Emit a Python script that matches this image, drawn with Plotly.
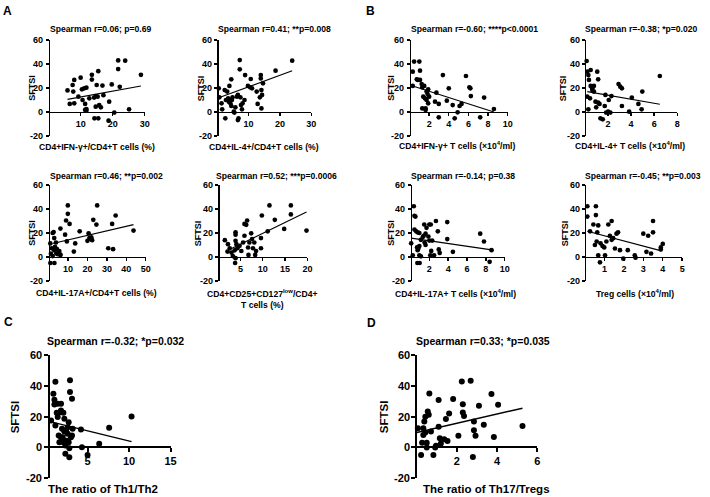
import plotly.graph_objects as go

W, H = 710, 497

# ---------------- data ----------------
a1_x = [5.9,7.5,7.7,8.0,6.6,8.0,9.3,10.0,10.4,11.1,11.8,10.6,11.4,11.4,11.8,11.8,12.7,13.5,13.5,14.2,14.7,15.0,15.5,14.7,15.8,16.3,16.8,17.1,15.3,14.3,15.5,18.9,19.7,18.7,20.5,21.7,21.7,22.2,23.9,25.1,28.8]
a1_y = [18,22.5,17,26.7,6.7,7.2,12.8,28.6,18.9,19.7,20.3,10,6.7,1.7,2.5,1.1,11.4,31,27,12,13.3,22.5,34,4.4,5.8,3.9,22,14,12.8,-5.3,-5.3,8.6,23,-7.2,-0.5,43,35.8,21,42.8,2.2,31]
a1_fit_x = [5.9, 28.8]
a1_fit_y = [10.5, 21.7]

a2_x = [0.5,0.7,1.4,1.6,2.4,2.8,3.2,2.6,3.5,3.7,3.9,4.2,4.5,4.7,4.9,4.5,5.3,5.5,5.8,6.3,6.6,6.8,6.6,7.2,7.2,7.4,7.6,8.1,7.9,8.7,8.9,9.8,10.5,10.7,11.1,12.6,12.9,13.6,13.9,13.9,14.1,14.3,14.1,14.6,18.6,23.9]
a2_y = [19.7,12.2,7.2,2.2,18.3,10,17,-5.3,11.4,8.6,21.7,7.2,5,10,12.2,27.2,0.3,-0.5,3.9,12.8,14.2,-5.3,-6.7,43.3,35.6,12.2,5.8,7.2,2.2,10,30.8,21.7,20.6,27.5,19.7,17,6.7,12.2,30.8,28,18.3,14.2,3,23.9,34.4,42.8]
a2_fit_x = [0.5, 23.9]
a2_fit_y = [11.8, 34.4]

a3_x = [0.9,1.6,1.2,2.1,2.6,2.9,2.1,2.9,3.3,3.8,4.3,4.7,5.5,6.1,6.1,9.0,9.9,9.9,10.8,8.5,9.4,13.0,13.7,16.0,20.0,20.6,21.0,21.7,22.4,22.0,23.0,25.0,24.6,30.7,33.2,32.7,34.5,43.7,0.9,3.0,4.0,6.0]
a3_y = [11.3,7.3,2.8,20,20.8,15.8,0.8,5.6,8.5,12.1,6.5,2.3,5,1.7,23.7,30.4,43,36,27.6,18.6,13,4.5,11.3,21.4,13.5,19.7,15.8,15,14,16.3,31,43,27,7.3,6.5,27.6,34.6,22,-5,-5,3,2]
a3_fit_x = [2.1, 43.7]
a3_fit_y = [11.3, 27]

a4_x = [1.5,2.2,2.6,2.1,3.0,3.3,3.7,3.9,4.1,4.3,3.9,3.9,3.9,4.8,5.2,5.6,5.9,5.9,6.3,6.5,6.7,6.8,7.0,7.4,7.6,7.8,8.1,8.3,8.5,9.6,9.6,9.8,11.1,11.5,12.7,14.8,16.3,16.3,19.8,3.8]
a4_y = [14,10.7,7.3,4.5,3.7,0.8,5.6,-1,10.7,7.3,20.6,18.6,13.5,9.3,5,12.1,17.7,27.6,26.8,30.4,7.9,1.7,12.1,19.7,15,7.3,12.1,1.7,5,7.3,15.8,34.6,21.4,43,31,23.4,43,35.5,22,-5]
a4_fit_x = [2.2, 19.8]
a4_fit_y = [5.6, 37.5]

b1_x = [0.33,0.33,0.47,0.74,0.84,1.0,1.07,1.07,1.24,1.3,1.4,1.5,1.57,1.64,1.74,1.74,1.84,1.64,1.9,1.3,1.9,2.0,2.6,2.74,2.98,2.98,3.4,3.8,4.0,4.4,4.6,4.9,5.1,5.3,5.75,6.1,6.2,6.25,7.2,7.6,8.6]
b1_y = [21.7,33.6,42,27.2,26.7,42,34.4,26.7,23.3,20.6,12.8,21.7,11.4,3,10,17,15,1.7,7.2,3,18.9,12.8,8.6,16.1,6.7,-4.4,30.8,9.4,19.7,5.8,-5.3,-0.3,5,6.7,30,20.6,19.7,13.3,-4.4,12,2.5]
b1_fit_x = [0.33, 8.6]
b1_fit_y = [21.7, 0]

b2_x = [0.14,0.2,0.29,0.34,0.2,0.29,0.43,0.49,0.49,0.63,0.63,0.77,0.77,0.91,0.97,1.06,1.14,1.14,1.26,1.34,1.54,1.71,1.77,1.83,2.0,2.06,2.2,2.29,2.91,3.06,3.2,3.2,3.83,4.06,4.63,4.91,4.97,6.49]
b2_y = [42.5,33.6,30.8,26.7,12.8,2.2,11.4,35,21.7,19.7,18.3,21.7,17,8.6,3.9,33.6,27.2,7.8,6.7,-5.3,-6.1,5,14.2,-0.5,0.3,10,-0.5,13.3,23.3,21.1,19.7,5,0.3,12,6.7,2.2,17,30]
b2_fit_x = [0.2, 6.49]
b2_fit_y = [17, 6.4]

b3_x = [0.07,0.24,0.35,0.42,0.52,0.42,0.6,0.76,0.94,0.7,0.76,0.83,0.94,0.94,1.1,1.1,1.3,1.4,1.46,1.5,1.6,1.6,1.7,1.9,2.0,2.15,2.0,2.1,2.2,2.3,2.5,2.7,2.9,3.0,3.1,3.9,3.9,4.5,7.4,7.8,8.6,0.73,0.97,8.4]
b3_y = [11.4,1.4,42.3,34.3,33.7,22.9,21.4,20.6,20,8,5.7,7.1,9.1,1.4,0.6,14.3,16.6,17.7,27.1,12,10,19.4,24.3,17.1,27.1,27.1,13.7,1.4,5.1,13.7,1.4,30,21.4,6.3,3.4,29.1,14.9,4.3,19.4,12.9,5.7,-5,-5,-4]
b3_fit_x = [0.07, 8.8]
b3_fit_y = [15.7, 5.7]

b4_x = [0.12,0.12,0.26,0.56,0.56,0.43,0.68,0.63,0.51,0.6,0.68,0.8,0.9,0.99,1.03,1.1,1.2,1.37,1.28,1.37,1.45,1.54,1.62,1.7,1.8,1.97,2.2,2.56,2.6,3.0,3.25,3.5,3.5,3.16,3.4,3.9,3.9,4.0,0.77]
b4_y = [42.3,33.7,21.4,42.3,34.9,27.1,26.3,20.6,10,12.9,1.4,11.4,9.1,8,1.4,12.9,27.1,30,17.7,14.3,15.7,7.1,19.4,20.6,5.7,-1.4,5.7,1.4,-0.6,19.4,17.7,20.6,30,4.3,2.9,6.3,8,10.9,-4.4]
b4_fit_x = [0.12, 3.93]
b4_fit_y = [21.4, 5.1]

c_x = [0.6,0.88,1.0,1.0,1.12,1.12,1.28,1.4,1.4,1.52,1.6,1.68,1.8,1.8,1.8,1.92,2.0,2.08,2.08,2.2,2.2,2.32,2.32,2.4,2.48,2.6,2.6,2.72,2.72,2.8,2.8,2.88,2.88,3.0,3.12,3.12,3.2,4.2,4.32,5.0,6.4,7.6,10.3]
c_y = [17.4,34.8,30.9,27.8,42.6,14.1,22.4,28.3,19.6,7.6,3.3,22.8,28.3,23.9,6.5,12,6.5,3.3,22.4,18.5,10.2,1.1,-4.3,10.9,4.3,8.7,13,16.3,3.3,-0.7,-6.5,43.5,35.9,6.5,7.6,31.5,12,11.5,0,-5,2.2,12.6,20]
c_fit_x = [0.48, 10.3]
c_fit_y = [16.7, 3.7]

d_x = [0.07,0.23,0.28,0.34,0.34,0.39,0.44,0.44,0.51,0.51,0.56,0.61,0.64,0.72,0.84,0.93,0.97,1.1,1.1,1.16,1.21,1.38,1.46,1.54,1.62,1.82,2.08,2.25,2.3,2.3,2.36,2.69,2.8,2.85,2.85,2.93,3.1,3.34,3.72,3.84,4.05,5.26]
d_y = [12.4,-5,3,8,12.4,16.7,19.8,9.6,-0.2,3,23.3,21.1,35,10.2,-5,-0.2,0.9,30.7,13.3,5.9,2.4,5.2,18.3,4.1,22,31.3,7.4,42.8,28,22.6,20.4,43.3,-6.3,16.7,11.1,7.4,27,14.6,34.6,6.7,27.6,13.9]
d_fit_x = [0.02, 5.26]
d_fit_y = [9.6, 25.4]

y_ticks = [-20, 0, 20, 40, 60]
y_tick_text = ["-20", "0", "20", "40", "60"]
y_lo, y_hi = -20.05, 60.05

titles = ["Spearman r=0.06; p=0.69", "Spearman r=0.41; **p=0.008",
          "Spearman r=0.46; **p=0.002", "Spearman r=0.52; ***p=0.0006",
          "Spearman r=-0.60; ****p<0.0001", "Spearman r=-0.38; *p=0.020",
          "Spearman r=-0.14; p=0.38", "Spearman r=-0.45; **p=0.003",
          "Spearman r=-0.32; *p=0.032", "Spearman r=0.33; *p=0.035"]
x_titles = ["CD4+IFN-γ+/CD4+T cells (%)", "CD4+IL-4+/CD4+T cells (%)",
            "CD4+IL-17A+/CD4+T cells (%)", "CD4+CD25+CD127<sup>low</sup>/CD4+<br>T cells (%)",
            "CD4+IFN-γ+ T cells (×10<sup>4</sup>/ml)", "CD4+IL-4+ T cells (×10<sup>4</sup>/ml)",
            "CD4+IL-17A+ T cells (×10<sup>4</sup>/ml)", "Treg cells (×10<sup>4</sup>/ml)",
            "The ratio of Th1/Th2", "The ratio of Th17/Tregs"]
x_ticks = [[10, 20, 30], [10, 20, 30], [10, 20, 30, 40, 50], [5, 10, 15, 20],
           [2, 4, 6, 8, 10], [2, 4, 6, 8], [2, 4, 6, 8, 10], [1, 2, 3, 4, 5],
           [5, 10, 15], [2, 4, 6]]
x_ranges = [[0, 30], [0, 30], [0, 50], [0, 20], [0, 10], [0, 8], [0, 10], [0, 5],
            [0.3, 15], [0, 6]]
series = [(a1_x, a1_y, a1_fit_x, a1_fit_y), (a2_x, a2_y, a2_fit_x, a2_fit_y),
          (a3_x, a3_y, a3_fit_x, a3_fit_y), (a4_x, a4_y, a4_fit_x, a4_fit_y),
          (b1_x, b1_y, b1_fit_x, b1_fit_y), (b2_x, b2_y, b2_fit_x, b2_fit_y),
          (b3_x, b3_y, b3_fit_x, b3_fit_y), (b4_x, b4_y, b4_fit_x, b4_fit_y),
          (c_x, c_y, c_fit_x, c_fit_y), (d_x, d_y, d_fit_x, d_fit_y)]

# ---------------- layout geometry (pixels) ----------------
# (x_left, x_right, pixel of y=60, pixel of y=-20)
boxes = [(49, 146, 40, 136), (219, 314, 40, 136), (49, 147, 185, 281), (220, 310, 185, 281),
         (413, 512, 40, 136), (590, 683, 40, 136), (414, 509, 185, 281), (590, 688, 185, 281),
         (49, 172, 355, 478), (420, 542, 355, 478)]
title_pos = [(48, 29), (218, 29), (48, 176), (216, 176), (412, 29), (588, 29), (412, 176), (588, 176),
             (45, 341), (418, 341)]
xtitle_pos = [(98, 147), (266, 147), (97, 293), (265, 299), (461, 146), (635, 146), (459, 293), (640, 293),
              (104, 489), (491, 489)]
ytitle_x = [32, 203, 32, 200, 394, 568, 394, 570, 15, 387]
letters = [("A", 8, 11), ("B", 374, 11), ("C", 9, 322), ("D", 375, 323)]

FONT = "Liberation Sans, Arial, sans-serif"

def fx(px):
    return px / W

def fy(py):
    return 1 - py / H

fig = go.Figure()
layout = dict(width=W, height=H, margin=dict(l=0, r=0, t=0, b=0),
              paper_bgcolor="white", plot_bgcolor="rgba(0,0,0,0)", showlegend=False,
              font=dict(family=FONT, color="black"), hovermode=False)
annotations = []

for i in range(10):
    n = i + 1
    big = i >= 8
    xs, ys, fxs, fys = series[i]
    xl, xr, yt, yb = boxes[i]
    ppu = (yb - yt) / 80.0
    dom_bot = yb + (-20 - y_lo) * ppu
    dom_top = yt - (y_hi - 60) * ppu
    xa = "x" if n == 1 else f"x{n}"
    ya = "y" if n == 1 else f"y{n}"
    fig.add_trace(go.Scatter(x=xs, y=ys, mode="markers", xaxis=xa, yaxis=ya,
                             marker=dict(color="black", size=6 if big else 4.7),
                             cliponaxis=False, hoverinfo="skip"))
    fig.add_trace(go.Scatter(x=fxs, y=fys, mode="lines", xaxis=xa, yaxis=ya,
                             line=dict(color="black", width=1.4 if big else 1.1),
                             cliponaxis=False, hoverinfo="skip"))
    fs = 11 if big else 9
    lw = 2 if big else 1.4
    tl = 4 if big else 3
    zero_py = yb - 20 * ppu
    layout[f"xaxis{n}" if n > 1 else "xaxis"] = dict(
        domain=[fx(xl), fx(xr)], range=x_ranges[i], tickvals=x_ticks[i],
        anchor="free", position=fy(zero_py), showline=True, linecolor="black",
        linewidth=lw, ticks="outside", ticklen=tl, tickwidth=lw,
        tickcolor="black", showgrid=False, zeroline=False, fixedrange=True,
        tickfont=dict(family=FONT, size=fs, color="black", weight="bold"))
    layout[f"yaxis{n}" if n > 1 else "yaxis"] = dict(
        domain=[fy(dom_bot), fy(dom_top)], range=[y_lo, y_hi], tickvals=y_ticks,
        anchor="free", position=fx(xl), side="left", showticklabels=False,
        showline=True, linecolor="black", linewidth=lw, fixedrange=True,
        ticks="outside", ticklen=tl, tickwidth=lw, tickcolor="black",
        showgrid=False, zeroline=False)
    # y tick labels placed at the axis values
    for v, t in zip(y_ticks, y_tick_text):
        annotations.append(dict(text=t, x=fx(xl - tl - 1.5), y=v, xref="paper", yref=ya,
                                xanchor="right", yanchor="middle", showarrow=False,
                                borderpad=0,
                                font=dict(family=FONT, size=fs, color="black", weight="bold")))
    tx, ty = title_pos[i]
    annotations.append(dict(text=titles[i], x=fx(tx), y=fy(ty), xref="paper", yref="paper",
                            xanchor="left", yanchor="middle", showarrow=False,
                            font=dict(family=FONT, size=10.5 if big else 8.6, color="black", weight="bold")))
    xtx, xty = xtitle_pos[i]
    annotations.append(dict(text=x_titles[i], x=fx(xtx), y=fy(xty), xref="paper", yref="paper",
                            xanchor="center", yanchor="middle", showarrow=False,
                            font=dict(family=FONT, size=11.5 if big else 8.6, color="black", weight="bold")))
    annotations.append(dict(text="SFTSI", x=fx(ytitle_x[i]), y=fy((yt + yb) / 2), xref="paper", yref="paper",
                            xanchor="center", yanchor="middle", showarrow=False, textangle=-90,
                            font=dict(family=FONT, size=11.5 if big else 9, color="black", weight="bold")))

for lab, px, py in letters:
    annotations.append(dict(text=lab, x=fx(px), y=fy(py), xref="paper", yref="paper",
                            xanchor="center", yanchor="middle", showarrow=False,
                            font=dict(family=FONT, size=12, color="black", weight="bold")))

layout["annotations"] = annotations
fig.update_layout(**layout)
fig.write_html("out.html", config={"displayModeBar": False, "staticPlot": True},
               post_script="document.body.style.margin='0';document.body.style.overflow='hidden';")
